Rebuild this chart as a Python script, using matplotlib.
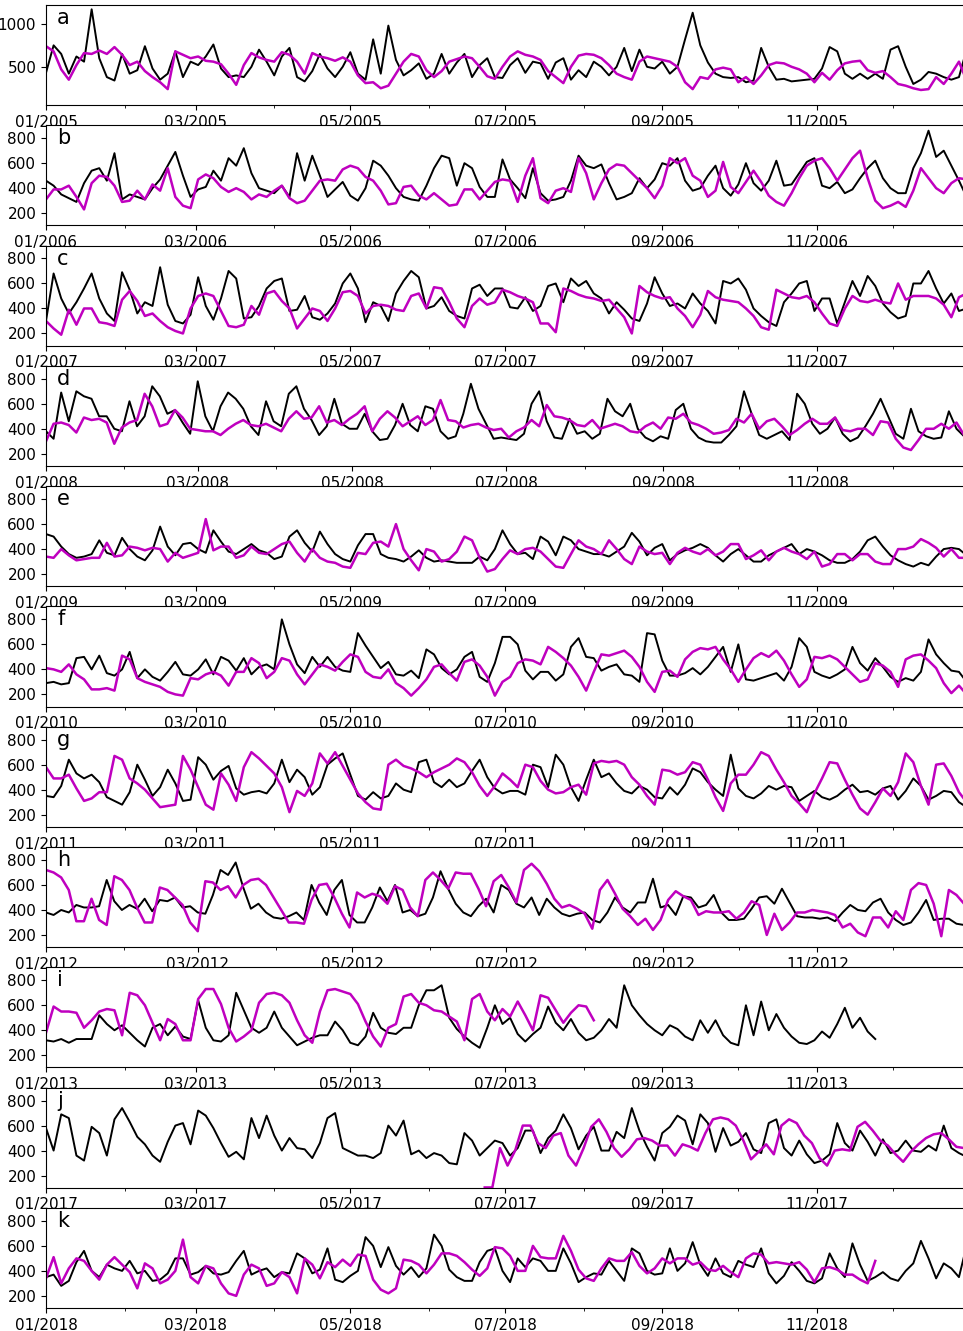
import numpy as np
import matplotlib
matplotlib.use('Agg')
import matplotlib.pyplot as plt
import matplotlib.dates as mdates

# values read every 3 days from Jan 1 of each year
black_2005 = [430,750,650,420,620,560,1170,600,380,340,650,420,460,740,480,350,420,680,380,560,
              520,620,760,480,380,400,380,500,700,560,400,620,720,380,330,450,650,480,380,500,
              670,420,350,820,420,980,580,400,460,540,360,420,650,420,550,650,380,520,600,380,
              370,520,600,430,560,540,360,550,600,350,460,380,560,500,400,500,720,450,700,500,
              480,560,420,500,820,1130,750,550,420,380,370,380,320,340,720,500,350,360,330,340,
              350,360,480,730,680,420,360,420,360,420,360,700,740,500,300,350,440,420,380,350,
              380,700]
mag_2005 = [740,680,470,350,520,660,650,690,650,730,640,520,560,450,380,320,240,680,640,600,
            620,570,560,530,420,290,520,660,610,580,560,670,640,560,420,660,620,600,570,610,
            560,400,310,320,250,280,420,560,650,620,460,380,450,560,590,620,600,500,390,360,
            500,620,680,640,620,580,450,380,310,500,630,650,640,600,520,420,380,350,560,620,
            600,580,560,500,320,240,380,360,470,490,470,320,380,300,400,520,550,540,500,470,
            420,320,430,350,460,540,560,570,460,430,450,380,300,280,250,230,240,380,300,420,
            560,340]

black_2006 = [460,420,350,320,290,440,540,560,460,680,310,350,330,310,400,470,580,690,500,330,
              390,410,540,460,640,580,720,520,400,380,360,420,330,680,460,660,500,330,390,450,
              340,300,400,620,580,500,400,330,310,300,420,560,660,640,420,600,560,410,330,330,
              630,470,400,320,560,360,300,310,330,460,660,580,560,590,440,310,330,360,480,400,
              470,600,580,640,460,380,400,500,580,400,340,430,600,440,380,460,620,420,430,520,
              610,640,420,400,450,360,390,480,560,620,480,400,360,360,560,680,860,650,700,580,
              460,330]
mag_2006 = [310,390,390,420,330,230,440,500,490,420,290,300,380,310,430,380,560,330,260,240,
            470,510,480,410,370,400,370,310,350,330,380,420,320,280,300,380,460,470,460,550,
            580,560,490,460,380,270,280,410,420,340,310,360,310,260,270,390,390,310,380,450,
            470,460,290,500,640,320,280,380,400,370,640,520,310,440,550,590,580,520,460,400,
            320,420,640,600,640,500,460,330,380,610,410,360,450,540,450,340,290,260,360,480,
            580,620,640,560,460,550,640,700,480,300,240,260,290,250,380,560,480,400,360,440,
            480,470]

black_2007 = [300,680,480,360,450,560,680,480,360,300,690,550,360,450,420,730,430,300,280,350,
              650,420,310,480,700,640,320,330,420,560,620,640,380,390,500,330,310,360,440,600,
              680,560,290,450,420,300,520,620,700,650,400,420,490,380,340,320,560,590,500,560,
              560,410,400,490,380,420,580,600,450,640,580,620,520,480,360,450,390,320,300,440,
              650,520,420,440,400,520,440,380,280,620,600,640,550,400,340,290,260,450,520,600,
              620,380,480,480,280,450,620,500,660,580,440,370,320,340,600,600,700,560,440,520,
              380,400]
mag_2007 = [300,240,190,390,270,400,400,290,280,260,470,540,460,340,360,300,250,220,200,400,
            500,520,500,380,260,250,270,420,350,520,540,460,400,240,320,400,380,300,400,530,
            540,500,360,420,430,420,390,380,500,520,400,570,560,450,320,250,420,480,430,450,
            550,530,500,480,450,280,280,210,560,540,510,490,480,460,470,400,330,200,580,530,
            500,480,490,400,340,250,350,540,490,470,460,450,400,340,250,230,550,520,490,480,
            500,450,360,280,260,400,500,460,450,470,450,440,600,470,500,500,500,480,430,330,
            490,520]

black_2008 = [380,320,690,460,700,660,640,500,500,400,380,620,420,500,740,660,520,550,450,360,
              780,500,380,580,690,640,560,420,350,620,460,420,680,740,560,470,350,420,640,440,
              400,400,520,380,310,320,430,600,430,380,580,560,380,320,340,520,760,560,440,320,
              330,320,310,360,600,700,460,330,320,480,360,380,320,360,640,540,500,600,400,330,
              300,340,320,550,600,400,330,300,290,290,350,420,700,520,350,320,350,380,310,680,
              600,440,360,400,490,360,300,330,420,520,640,500,360,320,560,380,340,320,330,540,
              400,340]
mag_2008 = [300,440,450,430,370,490,470,480,450,280,410,450,470,680,580,420,440,550,490,400,
            390,380,380,350,400,440,470,430,420,440,410,380,480,540,480,490,580,450,470,430,
            480,520,580,380,480,540,490,420,460,500,430,470,630,470,460,410,430,440,410,390,
            400,330,380,410,470,420,590,500,490,470,430,420,470,400,420,440,420,380,370,420,
            450,400,490,480,520,450,430,400,360,370,390,480,450,520,400,460,480,420,350,390,
            440,480,440,440,490,390,380,400,400,350,460,450,320,250,230,310,400,400,440,400,
            450,350]

black_2009 = [520,500,420,360,330,340,360,470,370,350,490,400,340,310,390,580,420,350,440,450,
              400,370,550,460,380,360,400,440,390,370,320,340,500,550,450,380,540,440,360,320,
              300,430,520,520,360,330,320,300,340,390,330,300,310,300,290,290,290,340,310,400,
              550,440,360,370,320,500,460,350,500,470,400,380,360,360,340,380,420,530,460,350,
              410,440,310,360,390,410,440,410,350,300,360,400,350,300,300,350,380,410,440,360,
              400,380,350,310,290,290,320,380,470,500,420,350,310,280,260,290,270,340,400,410,
              400,350]
mag_2009 = [340,330,400,350,310,320,330,330,450,340,350,420,410,390,410,400,300,370,330,350,
            370,640,390,420,420,330,350,420,370,360,400,440,460,370,300,400,330,300,290,260,
            250,370,360,450,460,420,600,400,310,230,400,380,300,320,380,500,470,330,220,240,
            320,390,360,400,410,380,320,260,250,360,470,420,400,360,470,400,320,280,420,380,
            360,370,280,370,410,380,360,400,350,380,440,440,320,350,390,310,380,410,380,360,
            320,380,260,280,360,360,310,360,360,300,280,280,400,400,420,480,450,410,340,400,
            330,330]

black_2010 = [290,300,280,290,490,500,400,510,370,350,400,540,330,400,340,310,380,460,360,350,
              400,480,360,500,470,390,490,360,420,440,400,800,600,440,370,500,420,500,420,390,
              380,690,590,500,410,460,360,350,390,330,560,520,410,360,400,500,540,340,300,450,
              660,660,600,390,320,380,380,310,360,580,650,500,490,390,420,440,360,350,300,690,
              680,470,350,350,370,410,360,420,500,580,380,600,320,310,330,350,370,310,420,650,
              580,380,350,330,360,400,580,450,390,490,420,340,300,330,310,380,640,520,450,390,
              380,300]
mag_2010 = [410,400,380,440,360,320,240,240,250,230,510,480,330,300,280,260,220,200,190,330,
            320,360,380,350,270,380,380,490,450,330,380,490,470,360,280,360,440,420,390,460,
            520,500,380,340,330,400,290,250,190,250,320,420,440,370,310,460,480,430,340,190,
            300,340,450,480,470,440,580,540,490,430,340,230,380,520,510,530,550,500,420,300,
            220,380,390,340,480,540,570,560,580,480,400,300,400,490,530,500,550,470,360,260,
            320,500,490,510,480,420,360,300,320,450,430,380,260,480,510,520,470,410,290,210,
            270,200]

black_2011 = [350,340,430,640,530,490,520,460,340,310,280,380,600,480,350,420,560,450,310,320,
              660,600,480,550,590,410,360,380,390,370,450,640,460,560,500,360,420,600,650,690,
              520,350,320,380,330,350,450,400,380,620,640,460,420,480,420,450,550,640,500,410,
              370,390,390,360,600,580,420,680,600,420,310,480,640,500,530,450,390,370,430,400,
              340,330,420,360,440,570,540,460,400,350,680,410,350,330,370,430,400,430,420,310,
              350,390,340,320,350,400,440,380,390,360,410,430,320,390,490,430,320,350,390,380,
              300,260]
mag_2011 = [580,490,490,520,410,310,330,380,380,670,640,490,450,400,330,260,270,280,670,560,
            420,280,240,530,440,310,580,700,650,590,530,420,220,390,350,450,690,610,700,590,
            480,370,300,250,240,600,640,590,570,540,500,540,570,600,650,620,540,430,350,430,
            530,480,420,600,580,470,400,370,380,420,440,360,610,630,620,630,600,500,440,350,
            280,560,550,520,540,620,600,480,340,230,450,520,520,600,700,670,560,460,350,290,
            220,370,490,620,610,480,360,250,200,300,410,350,460,690,620,430,280,600,610,510,
            380,300]

black_2012 = [380,360,400,380,440,420,420,430,640,470,400,440,410,490,390,480,470,500,420,430,
              380,370,520,720,680,780,580,410,450,380,340,330,350,380,320,600,460,360,560,640,
              360,300,300,420,580,470,600,380,400,350,370,500,710,570,450,380,350,430,490,380,
              600,560,450,420,500,360,490,420,370,350,370,380,320,300,380,500,420,380,460,460,
              650,420,440,360,510,500,420,440,520,380,320,320,330,410,500,510,450,570,460,350,
              340,340,330,340,310,380,440,400,390,460,490,380,320,280,300,380,480,320,330,330,
              290,280]
mag_2012 = [720,700,660,560,310,310,490,320,280,670,640,560,420,300,300,580,560,500,440,300,
            230,630,620,560,590,500,600,640,650,600,500,400,300,300,290,480,600,610,500,370,
            260,540,500,530,510,450,590,560,420,350,640,700,640,570,700,690,690,570,430,630,
            680,580,460,720,770,710,610,490,420,440,410,370,250,560,640,530,410,350,280,330,
            240,320,480,550,510,480,360,390,380,380,390,330,380,470,440,200,370,240,300,380,
            380,400,390,380,360,260,290,220,190,340,340,260,390,320,560,615,600,450,190,560,
            520,450]

black_2013 = [320,310,330,300,330,330,330,520,450,400,440,380,320,270,420,450,360,430,350,330,
              640,420,320,310,360,700,560,420,380,420,550,420,350,280,310,340,360,360,470,400,
              300,280,350,540,420,380,370,420,420,600,720,720,760,500,410,350,300,260,420,600,
              450,500,370,310,370,420,590,460,400,490,380,320,340,400,490,420,760,600,520,450,
              400,360,440,410,350,320,480,380,480,360,300,280,600,360,630,400,530,420,350,300,
              290,320,390,340,450,580,420,500,390,330]
mag_2013 = [380,590,550,550,540,420,480,550,570,560,360,700,680,600,460,320,490,450,320,320,
            650,730,730,610,420,310,350,400,620,690,700,680,620,480,360,300,550,720,730,710,
            690,610,470,350,270,420,450,670,690,620,600,560,550,510,470,320,650,690,550,480,
            570,510,630,520,400,680,660,560,460,540,600,590,480]

black_2017 = [580,400,690,660,360,320,590,540,360,650,740,630,510,450,360,310,470,600,620,450,
              720,680,580,460,350,390,330,660,500,680,520,400,500,420,410,340,460,660,700,420,
              390,360,360,340,380,600,520,640,370,400,340,380,360,300,290,540,480,360,420,480,
              460,360,420,560,560,380,500,560,690,580,410,520,590,400,400,550,500,740,560,430,
              320,540,590,680,640,450,690,620,390,580,440,470,540,410,380,620,650,420,360,480,
              370,300,320,370,620,460,400,560,470,360,490,380,400,480,400,390,440,400,600,420,
              380,350]
mag_2017_start = 173  # day of year where the magenta record begins
mag_2017 = [105,105,420,280,400,600,600,460,420,520,540,360,280,420,590,650,550,420,350,410,
            490,500,480,440,440,360,450,430,400,540,650,665,650,600,480,330,390,450,370,600,
            650,620,520,460,340,280,400,410,400,590,630,560,480,440,370,310,390,450,500,530,
            540,490,430,420]

black_2018 = [350,370,280,320,470,560,400,350,450,420,400,480,380,400,320,330,380,500,500,370,
              390,440,380,370,390,480,560,370,400,420,350,390,380,540,500,380,410,580,330,310,
              360,400,670,600,430,590,440,370,430,350,420,690,600,410,350,320,320,470,560,580,
              400,310,500,430,500,480,400,400,580,460,310,350,380,370,480,400,320,580,540,400,
              370,380,580,400,460,630,450,360,500,380,350,480,450,430,580,380,300,360,470,400,
              320,300,340,540,420,350,620,450,320,350,390,340,320,400,460,640,500,340,460,420,
              350,600]
mag_2018 = [340,510,300,420,500,480,400,330,450,510,450,390,260,460,420,300,330,400,650,350,
            300,440,420,300,220,200,370,450,420,280,300,390,350,220,500,450,340,470,430,490,
            440,530,520,330,250,220,260,490,480,450,380,450,540,540,520,470,410,360,420,590,
            580,520,400,400,600,510,500,500,680,560,410,340,320,420,500,480,480,550,440,380,
            420,500,460,500,500,450,470,410,400,440,390,350,500,540,530,460,470,460,450,470,
            410,310,420,430,410,370,370,330,300,480]

years = [2005, 2006, 2007, 2008, 2009, 2010, 2011, 2012, 2013, 2017, 2018]
letters = ['a', 'b', 'c', 'd', 'e', 'f', 'g', 'h', 'i', 'j', 'k']
panels = [
    (black_2005, mag_2005, 0),
    (black_2006, mag_2006, 0),
    (black_2007, mag_2007, 0),
    (black_2008, mag_2008, 0),
    (black_2009, mag_2009, 0),
    (black_2010, mag_2010, 0),
    (black_2011, mag_2011, 0),
    (black_2012, mag_2012, 0),
    (black_2013, mag_2013, 0),
    (black_2017, mag_2017, mag_2017_start),
    (black_2018, mag_2018, 0),
]


def dates(year, n, start=0):
    d0 = np.datetime64('%d-01-01' % year)
    return d0 + np.arange(start, start + 3 * n, 3).astype('timedelta64[D]')


W, H = 963, 1331
PX_PER_DAY = 2.536
fig = plt.figure(figsize=(W / 100, H / 100), dpi=100)

for i, (year, letter, (blk, mag, mstart)) in enumerate(zip(years, letters, panels)):
    top = 5 + i * 120.3
    # axes runs to Dec 31, a little past the right edge of the image
    ax = fig.add_axes([46 / W, 1 - (top + 100) / H, 364 * PX_PER_DAY / W, 100 / H])
    ax.plot(dates(year, len(blk)), blk, color='k', lw=1.4)
    ax.plot(dates(year, len(mag), mstart), mag, color='m', lw=1.8)

    ax.set_xlim(np.datetime64('%d-01-01' % year), np.datetime64('%d-12-31' % year))
    if i == 0:
        ax.set_ylim(55, 1220)
        ax.set_yticks([500, 1000])
    else:
        ax.set_ylim(103, 903)
        ax.set_yticks([200, 400, 600, 800])

    ax.xaxis.set_major_locator(mdates.MonthLocator(bymonth=[1, 3, 5, 7, 9, 11]))
    ax.xaxis.set_minor_locator(mdates.MonthLocator())
    ax.xaxis.set_major_formatter(mdates.DateFormatter('%m/%Y'))
    ax.tick_params(labelsize=11)
    ax.text(0.012, 0.97, letter, transform=ax.transAxes, va='top', fontsize=15)

fig.savefig('out.png', dpi=100)
